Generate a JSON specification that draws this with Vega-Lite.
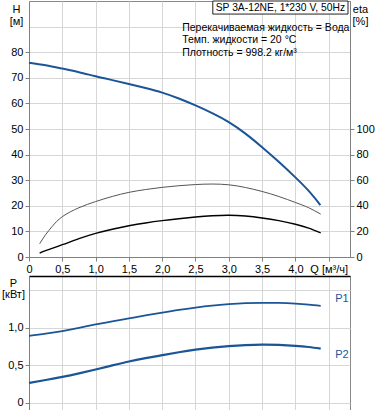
{
  "$schema": "https://vega.github.io/schema/vega-lite/v6.json",
  "padding": {"left": 1, "top": 0, "right": 0, "bottom": 0},
  "spacing": 0,
  "config": {
    "font": "Liberation Sans",
    "view": {"stroke": "#888888"},
    "axis": {
      "labelFont": "Liberation Sans", "labelFontSize": 11, "labelColor": "#000000", "labelOverlap": false,
      "titleFont": "Liberation Sans", "titleFontSize": 11, "titleFontWeight": "normal", "titleColor": "#000000",
      "gridColor": "#d6d6d6", "domainColor": "#808080", "tickColor": "#808080", "tickSize": 4, "labelPadding": 2
    }
  },
  "datasets": {
    "head": [
      {"Q": 0, "H": 75.9}, {"Q": 0.25, "H": 74.9}, {"Q": 0.5, "H": 73.6}, {"Q": 0.75, "H": 72.2},
      {"Q": 1.0, "H": 70.6}, {"Q": 1.25, "H": 69.1}, {"Q": 1.5, "H": 67.6}, {"Q": 1.75, "H": 66.0},
      {"Q": 2.0, "H": 64.2}, {"Q": 2.25, "H": 61.9}, {"Q": 2.5, "H": 59.2}, {"Q": 2.75, "H": 56.2},
      {"Q": 3.0, "H": 52.7}, {"Q": 3.25, "H": 48.2}, {"Q": 3.5, "H": 42.9}, {"Q": 3.75, "H": 37.2},
      {"Q": 4.0, "H": 31.1}, {"Q": 4.2, "H": 25.8}, {"Q": 4.375, "H": 20.3}
    ],
    "eta": [
      {"Q": 0.16, "eta": 10.4, "s": "eta1"}, {"Q": 0.25, "eta": 17.5, "s": "eta1"}, {"Q": 0.35, "eta": 24, "s": "eta1"},
      {"Q": 0.5, "eta": 31.5, "s": "eta1"}, {"Q": 0.75, "eta": 38.5, "s": "eta1"}, {"Q": 1.0, "eta": 43.3, "s": "eta1"},
      {"Q": 1.25, "eta": 47.3, "s": "eta1"}, {"Q": 1.5, "eta": 50.5, "s": "eta1"}, {"Q": 1.75, "eta": 52.7, "s": "eta1"},
      {"Q": 2.0, "eta": 54.4, "s": "eta1"}, {"Q": 2.25, "eta": 55.7, "s": "eta1"}, {"Q": 2.5, "eta": 56.6, "s": "eta1"},
      {"Q": 2.75, "eta": 57, "s": "eta1"}, {"Q": 3.0, "eta": 56.4, "s": "eta1"}, {"Q": 3.25, "eta": 54.3, "s": "eta1"},
      {"Q": 3.5, "eta": 51.2, "s": "eta1"}, {"Q": 3.75, "eta": 47.3, "s": "eta1"}, {"Q": 4.0, "eta": 42.6, "s": "eta1"},
      {"Q": 4.2, "eta": 38.5, "s": "eta1"}, {"Q": 4.38, "eta": 33.5, "s": "eta1"},
      {"Q": 0.16, "eta": 3.1, "s": "eta2"}, {"Q": 0.25, "eta": 5, "s": "eta2"}, {"Q": 0.5, "eta": 9.6, "s": "eta2"},
      {"Q": 0.75, "eta": 14.3, "s": "eta2"}, {"Q": 1.0, "eta": 18.4, "s": "eta2"}, {"Q": 1.25, "eta": 21.7, "s": "eta2"},
      {"Q": 1.5, "eta": 24.4, "s": "eta2"}, {"Q": 1.75, "eta": 26.6, "s": "eta2"}, {"Q": 2.0, "eta": 28.4, "s": "eta2"},
      {"Q": 2.25, "eta": 29.9, "s": "eta2"}, {"Q": 2.5, "eta": 31.2, "s": "eta2"}, {"Q": 2.75, "eta": 32.2, "s": "eta2"},
      {"Q": 3.0, "eta": 32.6, "s": "eta2"}, {"Q": 3.25, "eta": 32.0, "s": "eta2"}, {"Q": 3.5, "eta": 30.5, "s": "eta2"},
      {"Q": 3.75, "eta": 28.4, "s": "eta2"}, {"Q": 4.0, "eta": 25.6, "s": "eta2"}, {"Q": 4.2, "eta": 22.6, "s": "eta2"},
      {"Q": 4.38, "eta": 18.8, "s": "eta2"}
    ],
    "power": [
      {"Q": 0, "P": 0.893, "s": "P1"}, {"Q": 0.25, "P": 0.922, "s": "P1"}, {"Q": 0.5, "P": 0.957, "s": "P1"},
      {"Q": 0.75, "P": 1.0, "s": "P1"}, {"Q": 1.0, "P": 1.046, "s": "P1"}, {"Q": 1.25, "P": 1.087, "s": "P1"},
      {"Q": 1.5, "P": 1.126, "s": "P1"}, {"Q": 1.75, "P": 1.165, "s": "P1"}, {"Q": 2.0, "P": 1.203, "s": "P1"},
      {"Q": 2.25, "P": 1.239, "s": "P1"}, {"Q": 2.5, "P": 1.27, "s": "P1"}, {"Q": 2.75, "P": 1.296, "s": "P1"},
      {"Q": 3.0, "P": 1.315, "s": "P1"}, {"Q": 3.25, "P": 1.328, "s": "P1"}, {"Q": 3.5, "P": 1.333, "s": "P1"},
      {"Q": 3.75, "P": 1.331, "s": "P1"}, {"Q": 4.0, "P": 1.322, "s": "P1"}, {"Q": 4.2, "P": 1.309, "s": "P1"},
      {"Q": 4.38, "P": 1.293, "s": "P1"},
      {"Q": 0, "P": 0.267, "s": "P2"}, {"Q": 0.25, "P": 0.306, "s": "P2"}, {"Q": 0.5, "P": 0.348, "s": "P2"},
      {"Q": 0.75, "P": 0.395, "s": "P2"}, {"Q": 1.0, "P": 0.446, "s": "P2"}, {"Q": 1.25, "P": 0.5, "s": "P2"},
      {"Q": 1.5, "P": 0.552, "s": "P2"}, {"Q": 1.75, "P": 0.596, "s": "P2"}, {"Q": 2.0, "P": 0.636, "s": "P2"},
      {"Q": 2.25, "P": 0.675, "s": "P2"}, {"Q": 2.5, "P": 0.709, "s": "P2"}, {"Q": 2.75, "P": 0.736, "s": "P2"},
      {"Q": 3.0, "P": 0.756, "s": "P2"}, {"Q": 3.25, "P": 0.77, "s": "P2"}, {"Q": 3.5, "P": 0.777, "s": "P2"},
      {"Q": 3.75, "P": 0.773, "s": "P2"}, {"Q": 4.0, "P": 0.761, "s": "P2"}, {"Q": 4.2, "P": 0.745, "s": "P2"},
      {"Q": 4.38, "P": 0.724, "s": "P2"}
    ],
    "box": [{"q1": 2.76, "q2": 4.79, "h1": 94.9, "h2": 100, "qc": 3.775, "hc": 97.4, "t": "SP 3A-12NE, 1*230 V, 50Hz"}],
    "notes": [
      {"Q": 2.3, "H": 89.6, "t": "Перекачиваемая жидкость = Вода"},
      {"Q": 2.3, "H": 84.6, "t": "Темп. жидкости = 20 °C"},
      {"Q": 2.3, "H": 79.8, "t": "Плотность = 998.2 кг/м³"}
    ],
    "plabels": [
      {"Q": 4.8, "P": 1.383, "t": "P1"},
      {"Q": 4.8, "P": 0.636, "t": "P2"}
    ]
  },
  "vconcat": [
    {
      "width": 321,
      "height": 256,
      "layer": [
        {
          "layer": [
            {
              "data": {"name": "head"},
              "mark": {"type": "line", "color": "#1b5597", "strokeWidth": 2, "interpolate": "natural"},
              "encoding": {
                "x": {
                  "field": "Q", "type": "quantitative",
                  "scale": {"domain": [0, 4.82], "nice": false, "zero": false},
                  "axis": {
                    "title": null, "labelOverlap": false, "tickCount": 30,
                    "values": [0, 0.5, 1, 1.5, 2, 2.5, 3, 3.5, 4, 4.5],
                    "labelExpr": "datum.value == 4.5 ? 'Q [м³/ч]' : (datum.value == 0 ? '0' : replace(format(datum.value, '.1f'), '.', ','))",
                    "grid": true, "labelFlush": false
                  }
                },
                "y": {
                  "field": "H", "type": "quantitative",
                  "scale": {"domain": [0, 100], "nice": false},
                  "axis": {
                    "values": [0, 10, 20, 30, 40, 50, 60, 70, 80, 90],
                    "labelOverlap": false, "tickCount": 30,
                    "labelExpr": "datum.value <= 80 ? datum.value : ''",
                    "tickOpacity": {"condition": {"test": "datum.value > 80", "value": 0}, "value": 1},
                    "grid": true,
                    "title": ["H", "[м]"], "titleAngle": 0, "titleAlign": "center", "titleBaseline": "top",
                    "titleX": -13, "titleY": 2, "titleLineHeight": 12
                  }
                }
              }
            },
            {
              "data": {"name": "box"},
              "mark": {"type": "rect", "fill": "#ffffff", "stroke": "#222222", "strokeWidth": 1},
              "encoding": {
                "x": {"field": "q1", "type": "quantitative"},
                "x2": {"field": "q2"},
                "y": {"field": "h1", "type": "quantitative"},
                "y2": {"field": "h2"}
              }
            },
            {
              "data": {"name": "box"},
              "mark": {"type": "text", "fontSize": 10.3, "align": "center", "baseline": "middle", "color": "#000000"},
              "encoding": {
                "x": {"field": "qc", "type": "quantitative"},
                "y": {"field": "hc", "type": "quantitative"},
                "text": {"field": "t"}
              }
            },
            {
              "data": {"name": "notes"},
              "mark": {"type": "text", "fontSize": 10.5, "align": "left", "baseline": "middle", "color": "#000000"},
              "encoding": {
                "x": {"field": "Q", "type": "quantitative"},
                "y": {"field": "H", "type": "quantitative"},
                "text": {"field": "t"}
              }
            }
          ]
        },
        {
          "data": {"name": "eta"},
          "mark": {"type": "line", "interpolate": "natural"},
          "encoding": {
            "x": {"field": "Q", "type": "quantitative"},
            "y": {
              "field": "eta", "type": "quantitative",
              "scale": {"domain": [0, 200], "nice": false},
              "axis": {
                "orient": "right", "grid": false, "labelOverlap": false, "tickCount": 30,
                "values": [0, 20, 40, 60, 80, 100],
                "title": ["eta", "[%]"], "titleAngle": 0, "titleAlign": "center", "titleBaseline": "top",
                "titleX": 10, "titleY": 2, "titleLineHeight": 12
              }
            },
            "detail": {"field": "s"},
            "color": {"field": "s", "type": "nominal", "scale": {"domain": ["eta1", "eta2"], "range": ["#555555", "#000000"]}, "legend": null},
            "strokeWidth": {"field": "s", "type": "nominal", "scale": {"domain": ["eta1", "eta2"], "range": [1, 2.2]}, "legend": null}
          }
        }
      ],
      "resolve": {"scale": {"y": "independent"}}
    },
    {
      "width": 321,
      "height": 136,
      "layer": [
        {
          "data": {"name": "power"},
          "mark": {"type": "line", "color": "#1b5597", "interpolate": "natural"},
          "encoding": {
            "x": {
              "field": "Q", "type": "quantitative",
              "scale": {"domain": [0, 4.82], "nice": false, "zero": false},
              "axis": {
                "orient": "top", "title": null, "labels": false, "ticks": false, "tickCount": 30,
                "values": [0, 0.5, 1, 1.5, 2, 2.5, 3, 3.5, 4, 4.5],
                "grid": true, "domainColor": "#000000", "domainWidth": 1.5,
                "minExtent": 0, "maxExtent": 0
              }
            },
            "y": {
              "field": "P", "type": "quantitative",
              "scale": {"domain": [-0.12, 1.69], "nice": false, "zero": false},
              "axis": {
                "values": [0, 0.5, 1, 1.5], "labelOverlap": false, "tickCount": 30,
                "labelExpr": "datum.value == 0 ? '0' : (datum.value == 1.5 ? '' : replace(format(datum.value, '.1f'), '.', ','))",
                "tickOpacity": {"condition": {"test": "datum.value > 1.2", "value": 0}, "value": 1},
                "grid": true,
                "title": ["P", "[кВт]"], "titleAngle": 0, "titleAlign": "center", "titleBaseline": "top",
                "titleX": -16, "titleY": 1, "titleLineHeight": 11.5
              }
            },
            "detail": {"field": "s"},
            "strokeWidth": {"field": "s", "type": "nominal", "scale": {"domain": ["P1", "P2"], "range": [2, 1]}, "legend": null}
          }
        },
        {
          "data": {"name": "plabels"},
          "mark": {"type": "text", "fontSize": 11, "align": "right", "baseline": "middle", "color": "#1b5597"},
          "encoding": {
            "x": {"field": "Q", "type": "quantitative"},
            "y": {"field": "P", "type": "quantitative"},
            "text": {"field": "t"}
          }
        }
      ]
    }
  ]
}
